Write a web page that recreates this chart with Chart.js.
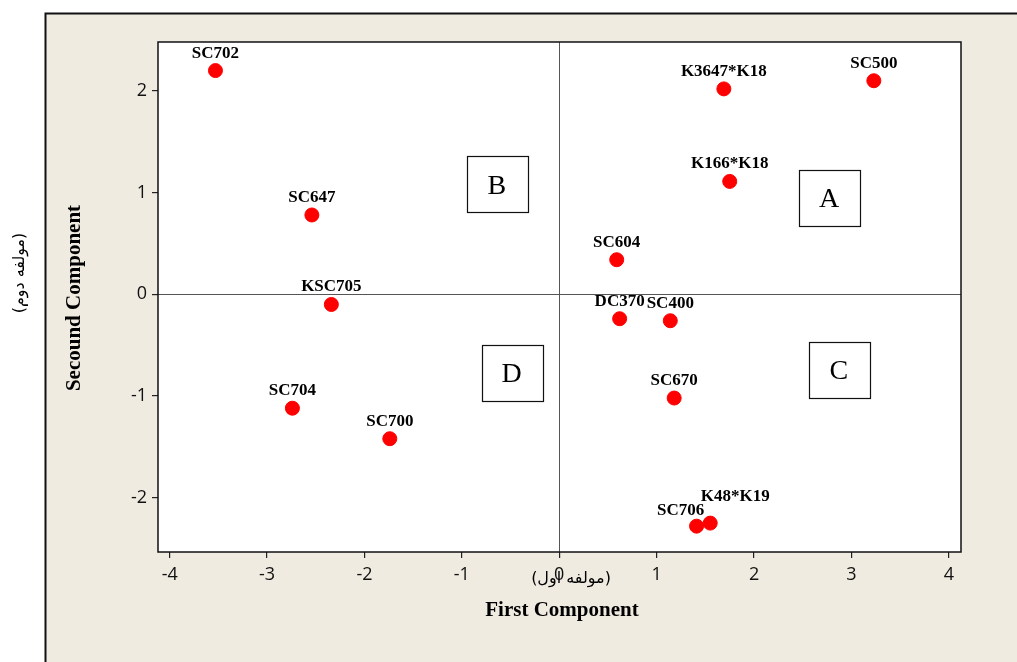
<!DOCTYPE html>
<html><head><meta charset="utf-8">
<script src="https://cdn.jsdelivr.net/npm/chart.js@4"></script>
<style>html,body{margin:0;padding:0;background:#fff;overflow:hidden}#wrap{width:1017px;height:662px;position:relative}canvas{display:block}</style>
</head><body><div id="wrap"><canvas id="c"></canvas></div>
<script>
const names = ['SC702','SC500','K3647*K18','K166*K18','SC647','SC604','KSC705','DC370','SC400','SC670','SC704','SC700','SC706','K48*K19'];
const firstComp  = [-3.53, 3.23, 1.69, 1.75, -2.54, 0.59, -2.34, 0.62, 1.14, 1.18, -2.74, -1.74, 1.41, 1.55];
const secondComp = [2.20, 2.10, 2.02, 1.11, 0.78, 0.34, -0.10, -0.24, -0.26, -1.02, -1.12, -1.42, -2.28, -2.25];
const xTicks = [-4,-3,-2,-1,0,1,2,3,4];
const yTicks = [-2,-1,0,1,2];
const quadNames = ['A','B','C','D'];
const quadX = [2.77, -0.64, 2.87, -0.49];
const quadY = [0.95, 1.08, -0.74, -0.77];
const xTitle = 'First Component';
const xTitleFa = '(مولفه اول)';
const yTitle = 'Secound Component';
const yTitleFa = '(مولفه دوم)';

const labelShift = {'K48*K19':[25,-9],'SC706':[-16,2]};

const deco = {
  id:'deco',
  beforeDraw(chart){
    const ctx=chart.ctx, a=chart.chartArea;
    ctx.save();
    ctx.fillStyle='#fff'; ctx.fillRect(0,0,chart.width,chart.height);
    ctx.fillStyle='#efebe1'; ctx.fillRect(45,13,chart.width,chart.height);
    ctx.strokeStyle='#111'; ctx.lineWidth=2;
    ctx.beginPath(); ctx.moveTo(45.5,chart.height); ctx.lineTo(45.5,13.5); ctx.lineTo(chart.width,13.5); ctx.stroke();
    ctx.fillStyle='#fff'; ctx.fillRect(a.left,a.top,a.right-a.left,a.bottom-a.top);
    ctx.restore();
  },
  beforeDatasetsDraw(chart){
    const ctx=chart.ctx, a=chart.chartArea, xs=chart.scales.x, ys=chart.scales.y;
    ctx.save();
    ctx.strokeStyle='#555'; ctx.lineWidth=1;
    const x0=Math.round(xs.getPixelForValue(0))+0.5, y0=Math.round(ys.getPixelForValue(0))+0.5;
    ctx.beginPath(); ctx.moveTo(x0,a.top); ctx.lineTo(x0,a.bottom); ctx.moveTo(a.left,y0); ctx.lineTo(a.right,y0); ctx.stroke();
    ctx.strokeStyle='#111'; ctx.lineWidth=1.5;
    ctx.strokeRect(a.left,a.top,a.right-a.left,a.bottom-a.top);
    // quadrant boxes
    ctx.lineWidth=1.2; ctx.strokeStyle='#111'; ctx.fillStyle='#000';
    ctx.font='28px "Liberation Serif", serif'; ctx.textAlign='center'; ctx.textBaseline='middle';
    quadNames.forEach((q,i)=>{
      const cx=xs.getPixelForValue(quadX[i]), cy=ys.getPixelForValue(quadY[i]);
      ctx.strokeRect(Math.round(cx-30)+0.5,Math.round(cy-28)+0.5,61,56);
      ctx.fillText(q,cx,cy+2);
    });
    ctx.restore();
  },
  afterDatasetsDraw(chart){
    const ctx=chart.ctx, meta=chart.getDatasetMeta(0);
    ctx.save();
    ctx.fillStyle='#000'; ctx.font='bold 17px "Liberation Serif", serif';
    ctx.textAlign='center'; ctx.textBaseline='alphabetic';
    meta.data.forEach((pt,i)=>{
      const s=labelShift[names[i]]||[0,0];
      ctx.fillText(names[i], pt.x+s[0], pt.y-13+s[1]);
    });
    // axis titles
    ctx.font='bold 21px "Liberation Serif", serif'; ctx.textBaseline='middle';
    ctx.fillText(xTitle, 562, 611);
    ctx.font='16px "DejaVu Sans", sans-serif';
    ctx.fillText(xTitleFa, 571, 579);
    ctx.save(); ctx.translate(75,298); ctx.rotate(-Math.PI/2);
    ctx.font='bold 21px "Liberation Serif", serif'; ctx.fillText(yTitle,0,0); ctx.restore();
    ctx.save(); ctx.translate(20,273); ctx.rotate(-Math.PI/2);
    ctx.font='16px "DejaVu Sans", sans-serif'; ctx.fillText(yTitleFa,0,0); ctx.restore();
    ctx.restore();
  }
};

new Chart(document.getElementById('c'),{
  type:'scatter',
  data:{datasets:[{data:firstComp.map((v,i)=>({x:v,y:secondComp[i]})),backgroundColor:'#ff0000',borderColor:'#ff0000',pointRadius:7,pointHoverRadius:7}]},
  options:{
    responsive:true, maintainAspectRatio:false, animation:false, devicePixelRatio:1,
    layout:{padding:{left:0,top:42,right:56,bottom:0}},
    plugins:{legend:{display:false},tooltip:{enabled:false}},
    scales:{
      x:{type:'linear',min:-4.12,max:4.125,
        afterBuildTicks(s){s.ticks=xTicks.map(v=>({value:v}));},
        afterFit(s){s.height=110;},
        grid:{drawOnChartArea:false,drawTicks:true,tickLength:6,color:'#222',lineWidth:1.2},
        border:{display:false},
        ticks:{padding:6,color:'#111',font:{family:'"Open Sans", sans-serif',size:18},maxRotation:0,autoSkip:false}},
      y:{type:'linear',min:-2.534,max:2.481,
        afterBuildTicks(s){s.ticks=yTicks.map(v=>({value:v}));},
        afterFit(s){s.width=158;},
        grid:{drawOnChartArea:false,drawTicks:true,tickLength:6,color:'#222',lineWidth:1.2},
        border:{display:false},
        ticks:{padding:5,color:'#111',font:{family:'"Open Sans", sans-serif',size:18},autoSkip:false}}
    }
  },
  plugins:[deco]
});
</script></body></html>
